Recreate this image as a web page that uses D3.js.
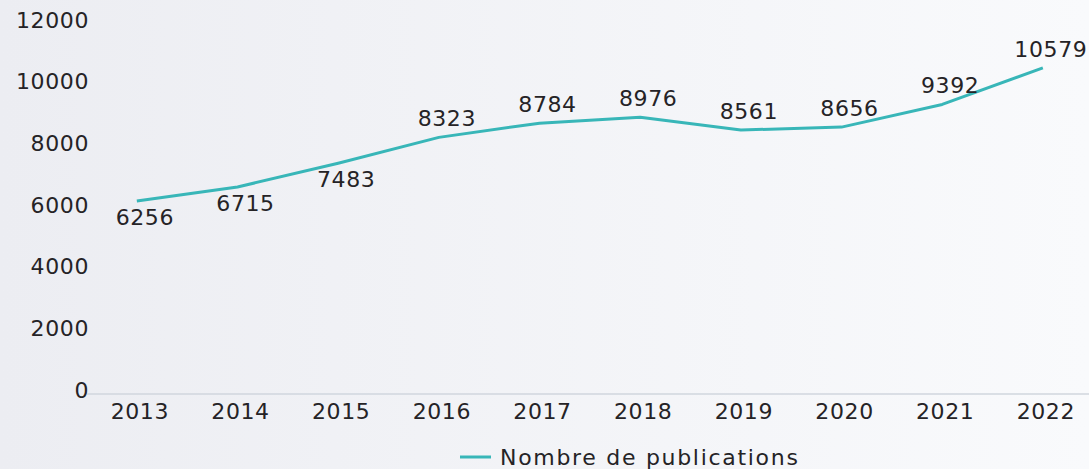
<!DOCTYPE html>
<html>
<head>
<meta charset="utf-8">
<script src="https://cdn.jsdelivr.net/npm/d3@7"></script>
<style>
  html, body { margin: 0; padding: 0; }
  body { width: 1089px; height: 469px; overflow: hidden; }
  svg text { font-family: "DejaVu Sans", sans-serif; fill: #252326; }
</style>
</head>
<body>
<svg id="chart"></svg>
<script>
// data
var years = ["2013", "2014", "2015", "2016", "2017", "2018", "2019", "2020", "2021", "2022"];
var publications = [6256, 6715, 7483, 8323, 8784, 8976, 8561, 8656, 9392, 10579];
var yTicks = [0, 2000, 4000, 6000, 8000, 10000, 12000];
var labelSide = ["below", "below", "below", "above", "above", "above", "above", "above", "above", "above"];
var seriesName = "Nombre de publications";

var w = 1089,
    h = 469,
    teal = "#38b6b8";

var svg = d3.select("#chart")
    .attr("width", w)
    .attr("height", h);

// soft background gradient
var grad = svg.append("defs").append("linearGradient")
    .attr("id", "bg")
    .attr("x1", "0%").attr("x2", "100%")
    .attr("y1", "0%").attr("y2", "0%");
grad.append("stop").attr("offset", "0%").attr("stop-color", "#ecedf2");
grad.append("stop").attr("offset", "100%").attr("stop-color", "#f9fafc");
svg.append("rect").attr("width", w).attr("height", h).attr("fill", "url(#bg)");

var x = d3.scaleBand().domain(years).range([86.5, 1093.2]);
var y = d3.scaleLinear().domain([0, 12000]).range([394, 24]);

// y axis labels only
var yAxis = svg.append("g")
    .attr("transform", "translate(89,0)")
    .call(d3.axisLeft(y).tickValues(yTicks).tickSize(0).tickPadding(0).tickFormat(d3.format("d")));
yAxis.select(".domain").remove();
yAxis.selectAll("text")
    .attr("dy", "0.32em")
    .attr("y", -4)
    .style("font-size", "22px")
    .style("letter-spacing", "0.6px");

// x axis with baseline
var xAxis = svg.append("g")
    .attr("transform", "translate(0,393.5)")
    .call(d3.axisBottom(x).tickSize(0).tickPadding(0));
xAxis.select(".domain")
    .attr("stroke", "#d1d6de")
    .attr("stroke-width", 1.6);
xAxis.selectAll("text")
    .attr("dy", 0)
    .attr("y", 25)
    .attr("x", 3)
    .style("font-size", "22px")
    .style("letter-spacing", "0.6px");

// line
var line = d3.line()
    .x(function(d, i) { return x(years[i]) + x.bandwidth() / 2; })
    .y(function(d) { return y(d); });

svg.append("path")
    .datum(publications)
    .attr("fill", "none")
    .attr("stroke", teal)
    .attr("stroke-width", 3)
    .attr("stroke-linejoin", "round")
    .attr("d", line);

// value labels
svg.selectAll("text.val")
    .data(publications)
  .enter().append("text")
    .attr("class", "val")
    .attr("text-anchor", "middle")
    .attr("x", function(d, i) { return x(years[i]) + x.bandwidth() / 2 + 8; })
    .attr("y", function(d, i) { return y(d) + (labelSide[i] == "above" ? -19 : 16); })
    .attr("dy", "0.36em")
    .style("font-size", "22px")
    .style("letter-spacing", "0.6px")
    .text(function(d) { return d; });

// legend
var legend = svg.append("g").attr("transform", "translate(460,457)");
legend.append("line")
    .attr("x1", 0).attr("x2", 31)
    .attr("stroke", teal)
    .attr("stroke-width", 3);
legend.append("text")
    .attr("x", 40)
    .attr("dy", "0.36em")
    .style("font-size", "22px")
    .style("letter-spacing", "1.7px")
    .text(seriesName);
</script>
</body>
</html>
